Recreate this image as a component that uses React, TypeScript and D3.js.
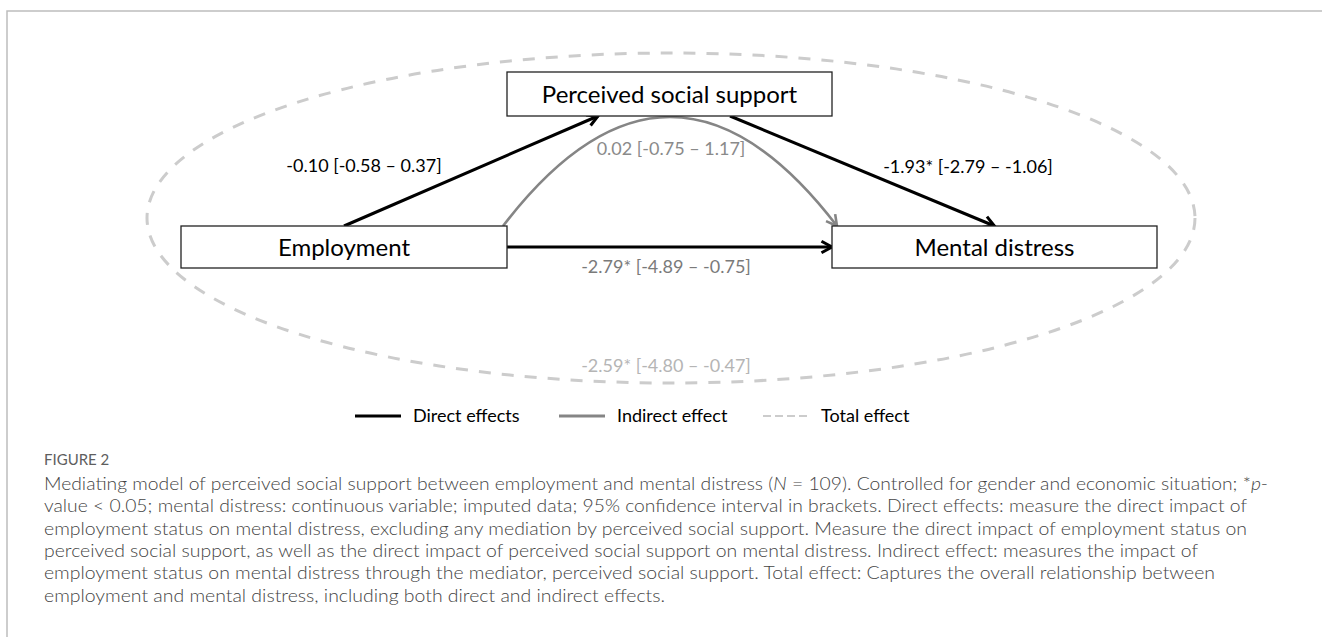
import React from "react";
import * as d3 from "d3";

// ---------- data ----------
const nodeNames = ["Employment", "Perceived social support", "Mental distress"];
const directLabels = ["-0.10 [-0.58 – 0.37]", "-1.93* [-2.79 – -1.06]", "-2.79* [-4.89 – -0.75]"];
const indirectLabel = "0.02 [-0.75 – 1.17]";
const totalLabel = "-2.59* [-4.80 – -0.47]";
const legendItems = ["Direct effects", "Indirect effect", "Total effect"];
const figureTitle = "FIGURE 2";
const captionLines = [
  "Mediating model of perceived social support between employment and mental distress (_N_ = 109). Controlled for gender and economic situation; *_p_-",
  "value < 0.05; mental distress: continuous variable; imputed data; 95% confidence interval in brackets. Direct effects: measure the direct impact of",
  "employment status on mental distress, excluding any mediation by perceived social support. Measure the direct impact of employment status on",
  "perceived social support, as well as the direct impact of perceived social support on mental distress. Indirect effect: measures the impact of",
  "employment status on mental distress through the mediator, perceived social support. Total effect: Captures the overall relationship between",
  "employment and mental distress, including both direct and indirect effects.",
];
// right end of each caption line
const captionLineEnds = [1268, 1247, 1247, 1198, 1215, 665];

// ---------- layout ----------
const W = 1322;
const H = 637;
const DIAG_FONT = "Lato, 'Open Sans', sans-serif";
const CAP_FONT = "Lato, 'Open Sans', sans-serif";

const boxes = [
  { x0: 181, x1: 507, y0: 226, y1: 268 }, // Employment
  { x0: 507, x1: 832, y0: 72, y1: 116 }, // PSS
  { x0: 832, x1: 1157, y0: 226, y1: 268 }, // Mental distress
];

type Pt = [number, number];

function chevron(tip: Pt, angle: number, len = 12, spread = 0.5) {
  const p = d3.path();
  p.moveTo(tip[0] + len * Math.cos(angle + Math.PI - spread), tip[1] + len * Math.sin(angle + Math.PI - spread));
  p.lineTo(tip[0], tip[1]);
  p.lineTo(tip[0] + len * Math.cos(angle + Math.PI + spread), tip[1] + len * Math.sin(angle + Math.PI + spread));
  return p.toString();
}

function lineArrow(a: Pt, b: Pt) {
  const p = d3.path();
  p.moveTo(a[0], a[1]);
  p.lineTo(b[0], b[1]);
  return { line: p.toString(), head: chevron(b, Math.atan2(b[1] - a[1], b[0] - a[0])) };
}

function renderSegments(s: string) {
  return s.split("_").map((seg, i) => (
    <tspan key={i} fontStyle={i % 2 === 1 ? "italic" : "normal"}>{seg}</tspan>
  ));
}

export default function App() {
  const [emp, pss, md] = boxes;
  const cx = (b: typeof emp) => (b.x0 + b.x1) / 2;
  const cy = (b: typeof emp) => (b.y0 + b.y1) / 2;

  const a1 = lineArrow([cx(emp), emp.y0], [598, pss.y1]);
  const a2 = lineArrow([730, pss.y1], [cx(md), md.y0]);
  const a3 = lineArrow([emp.x1, cy(emp)], [md.x0, cy(emp)]);

  // indirect curve (quadratic)
  const s: Pt = [emp.x1 - 4, emp.y0];
  const c: Pt = [670, 8];
  const e: Pt = [md.x0 + 5, md.y0];
  const cp = d3.path();
  cp.moveTo(s[0], s[1]);
  cp.quadraticCurveTo(c[0], c[1], e[0], e[1]);
  const curveHead = chevron(e, Math.atan2(e[1] - c[1], e[0] - c[0]));

  // total effect ellipse
  const ell = { cx: 671, cy: 218, rx: 524, ry: 165 };

  // legend
  const legendX = d3.scalePoint<string>().domain(legendItems).range([355, 763]);
  const legendY = 416;

  const captionX0 = 44;
  const captionY = d3.scaleLinear().domain([0, 1]).range([490, 512.3]);

  return (
    <svg width={W} height={H} style={{ position: "absolute", left: 0, top: 0, background: "#fff" }}>
      {/* frame */}
      <path d={`M7,${H} L7,11 L${W},11`} fill="none" stroke="#bdbdbd" strokeWidth={1.5} />

      {/* total effect ellipse */}
      <ellipse cx={ell.cx} cy={ell.cy} rx={ell.rx} ry={ell.ry} fill="none" stroke="#cccccc" strokeWidth={3} strokeDasharray="12 11" />

      {/* indirect curve */}
      <path d={cp.toString()} fill="none" stroke="#858585" strokeWidth={2.6} />
      <path d={curveHead} fill="none" stroke="#858585" strokeWidth={2.6} />

      {/* direct arrows */}
      {[a1, a2, a3].map((a, i) => (
        <g key={i}>
          <path d={a.line} fill="none" stroke="#000" strokeWidth={3} />
          <path d={a.head} fill="none" stroke="#000" strokeWidth={3} />
        </g>
      ))}

      {/* boxes */}
      {boxes.map((b, i) => (
        <g key={i}>
          <rect x={b.x0} y={b.y0} width={b.x1 - b.x0} height={b.y1 - b.y0} fill="#fff" stroke="#222" strokeWidth={1.3} />
          <text x={cx(b)} y={cy(b) + 8.5} textAnchor="middle" fontFamily={DIAG_FONT} fontSize={24} fill="#000">
            {nodeNames[i]}
          </text>
        </g>
      ))}

      {/* effect labels */}
      <text x={364} y={172} textAnchor="middle" fontFamily={DIAG_FONT} fontSize={18} fill="#000">{directLabels[0]}</text>
      <text x={968} y={173} textAnchor="middle" fontFamily={DIAG_FONT} fontSize={18} fill="#000">{directLabels[1]}</text>
      <text x={666} y={273} textAnchor="middle" fontFamily={DIAG_FONT} fontSize={18} fill="#7a7a7a">{directLabels[2]}</text>
      <text x={671} y={155} textAnchor="middle" fontFamily={DIAG_FONT} fontSize={18} fill="#8a8a8a">{indirectLabel}</text>
      <text x={666} y={372} textAnchor="middle" fontFamily={DIAG_FONT} fontSize={18} fill="#b5b5b5">{totalLabel}</text>

      {/* legend */}
      {legendItems.map((name, i) => {
        const x = legendX(name)!;
        return (
          <g key={name}>
            <line x1={x} x2={x + 46} y1={legendY} y2={legendY}
              stroke={i === 0 ? "#000" : i === 1 ? "#858585" : "#cccccc"}
              strokeWidth={i === 2 ? 2 : 3}
              strokeDasharray={i === 2 ? "8 4" : undefined} />
            <text x={x + 58} y={legendY + 6} fontFamily={DIAG_FONT} fontSize={18} fill="#000">{name}</text>
          </g>
        );
      })}

      {/* caption */}
      <text x={captionX0} y={465} fontFamily={CAP_FONT} fontSize={15} fill="#5e5e5e">{figureTitle}</text>
      {captionLines.map((ln, i) => (
        <text key={i} x={captionX0} y={captionY(i)} fontFamily={CAP_FONT} fontSize={18.4} fontWeight={300}
          fill="#444" textLength={captionLineEnds[i] - captionX0} lengthAdjust="spacingAndGlyphs">
          {renderSegments(ln)}
        </text>
      ))}
    </svg>
  );
}
